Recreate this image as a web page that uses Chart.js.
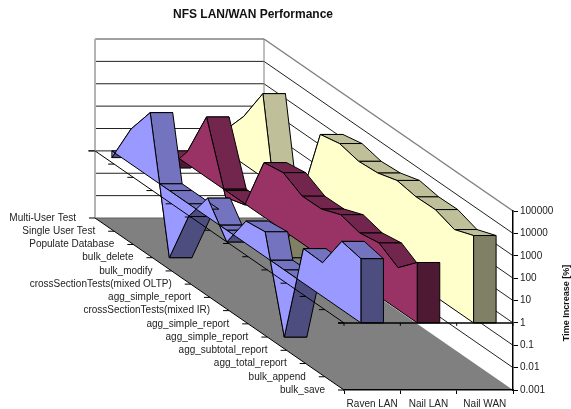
<!DOCTYPE html>
<html>
<head>
<meta charset="utf-8">
<title>NFS LAN/WAN Performance</title>
<script src="https://cdn.jsdelivr.net/npm/chart.js@4"></script>
<style>
  body { margin: 0; background: #fff; }
  canvas { display: block; }
</style>
</head>
<body>
<canvas id="myChart" width="571" height="409"></canvas>
<script>
const seriesNames = ["Raven LAN", "Nail LAN", "Nail WAN"];
const depthLabels = [
  "Multi-User Test", "Single User Test", "Populate Database", "bulk_delete", "bulk_modify",
  "crossSectionTests(mixed OLTP)", "agg_simple_report", "crossSectionTests(mixed IR)",
  "agg_simple_report", "agg_simple_report", "agg_subtotal_report", "agg_total_report",
  "bulk_append", "bulk_save",
];
const valueTicks = [0.001, 0.01, 0.1, 1, 10, 100, 1000, 10000, 100000];

const ravenLan = [0.5, 37, 780, 0.001, 0.27, 7, 0.3, 10, 13, 0.001, 35, 32, 1120, 740];
const nailLan = [0.17, 3.6, 500, 0.5, 0.9, 270, 375, 130, 135, 295, 175, 245, 75, 500];
const nailWan = [8, 135, 5500, 0.001, 1.9, 4900, 7500, 4700, 5500, 10000, 7200, 7600, 3800, 8000];

const seriesValues = [ravenLan, nailLan, nailWan];
const seriesColors = [
  { face: "#9999FF", top: "#7373BF", dark: "#4D4D80" },
  { face: "#993366", top: "#73264D", dark: "#4D1933" },
  { face: "#FFFFCC", top: "#BFBF99", dark: "#808066" },
];

// oblique shift of the rear plane relative to the front plane
const rearX = -249;
const rearY = -172;
const baseValue = 1;
const slabWidth = 0.4;
const FONT = '"Liberation Sans", Arial, sans-serif';

function shift(chart, index) {
  const depth = chart.scales.depth;
  const f = (depth.getPixelForValue(index) - depth.left) / depth.width - 1;
  return { x: f * -rearX, y: f * -rearY };
}

function poly(ctx, pts, fill, stroke) {
  ctx.beginPath();
  pts.forEach((p, i) => (i ? ctx.lineTo(p.x, p.y) : ctx.moveTo(p.x, p.y)));
  ctx.closePath();
  if (fill) {
    ctx.fillStyle = fill;
    ctx.fill();
  }
  if (stroke) {
    ctx.strokeStyle = stroke;
    ctx.lineWidth = 1;
    ctx.stroke();
  }
}

function line(ctx, x1, y1, x2, y2, color, width) {
  ctx.beginPath();
  ctx.moveTo(x1, y1);
  ctx.lineTo(x2, y2);
  ctx.strokeStyle = color;
  ctx.lineWidth = width || 1;
  ctx.stroke();
}

// walls and floor
const walls = {
  id: "walls",
  beforeDraw(chart) {
    const { ctx, chartArea, scales } = chart;
    const { left, right } = chartArea;
    const y = scales.y;
    const floorY = y.getPixelForValue(valueTicks[0]);
    const topY = y.getPixelForValue(valueTicks[valueTicks.length - 1]);
    ctx.save();
    ctx.fillStyle = "#fff";
    ctx.fillRect(0, 0, chart.width, chart.height);

    poly(ctx, [
      { x: left + rearX, y: floorY + rearY },
      { x: right + rearX, y: floorY + rearY },
      { x: right, y: floorY },
      { x: left, y: floorY },
    ], "#808080");

    valueTicks.forEach((v) => {
      const py = y.getPixelForValue(v);
      const isTop = py === topY;
      const isBottom = v === valueTicks[0];
      const color = isTop || isBottom ? "#808080" : "#222";
      const startX = v === baseValue ? left + rearX - 7 : left + rearX;
      line(ctx, startX, py + rearY, right + rearX, py + rearY, isBottom ? "#606060" : color, isTop ? 1.5 : 1);
      if (!isBottom) line(ctx, right + rearX, py + rearY, right, py, isTop ? "#808080" : "#222", isTop ? 1.5 : 1);
    });
    line(ctx, left + rearX, topY + rearY, left + rearX, floorY + rearY, "#b4b4b4", 2);
    line(ctx, right + rearX, topY + rearY, right + rearX, floorY + rearY, "#808080", 1);
    ctx.restore();
  },
};

// one solid ribbon per series, rear to front, rightmost series first
const slabs = {
  id: "slabs",
  beforeDatasetsDraw(chart) {
    const { ctx, scales } = chart;
    const xs = scales.x;
    const ys = scales.y;
    const baseY = ys.getPixelForValue(baseValue);
    const width = (xs.getPixelForValue(1) - xs.getPixelForValue(0)) * slabWidth;
    ctx.save();
    ctx.lineJoin = "round";

    for (let s = seriesNames.length - 1; s >= 0; s--) {
      const colors = seriesColors[s];
      const meta = chart.getDatasetMeta(s);
      const xLeft = xs.getPixelForValue(s) - width / 2;

      // nodes along the left edge; a node is added wherever the series crosses the base
      const nodes = [];
      meta._parsed.forEach((item, i) => {
        const off = shift(chart, i);
        const h = ys.getPixelForValue(item.y) - baseY;
        if (i > 0) {
          const prev = nodes[nodes.length - 1];
          if (prev.h * h < 0) {
            const t = prev.h / (prev.h - h);
            nodes.push({
              x: prev.x + (xLeft + off.x - prev.x) * t,
              base: prev.base + (baseY + off.y - prev.base) * t,
              h: 0,
            });
          }
        }
        nodes.push({ x: xLeft + off.x, base: baseY + off.y, h });
      });

      // top and underside surfaces
      for (let i = 0; i < nodes.length - 1; i++) {
        const a = nodes[i];
        const b = nodes[i + 1];
        const ya = a.base + a.h;
        const yb = b.base + b.h;
        poly(ctx, [
          { x: a.x, y: ya }, { x: b.x, y: yb },
          { x: b.x + width, y: yb }, { x: a.x + width, y: ya },
        ], yb < ya ? colors.dark : colors.top, "#000");
      }

      // base plane closes the solid where it hangs below the base value
      for (let i = 0; i < nodes.length - 1; i++) {
        const a = nodes[i];
        const b = nodes[i + 1];
        if (a.h < 0 || b.h < 0) continue;
        if (a.h === 0 && b.h === 0) continue;
        poly(ctx, [
          { x: a.x, y: a.base }, { x: b.x, y: b.base },
          { x: b.x + width, y: b.base }, { x: a.x + width, y: a.base },
        ], colors.top, "#000");
      }

      // front end
      const last = nodes[nodes.length - 1];
      poly(ctx, [
        { x: last.x, y: last.base + last.h }, { x: last.x + width, y: last.base + last.h },
        { x: last.x + width, y: last.base }, { x: last.x, y: last.base },
      ], colors.dark, "#000");

      // left side face
      const face = nodes.map((n) => ({ x: n.x, y: n.base + n.h }));
      face.push({ x: last.x, y: last.base });
      face.push({ x: nodes[0].x, y: nodes[0].base });
      poly(ctx, face, colors.face, "#000");
    }
    ctx.restore();
  },
};

// axis lines on the base plane, floor ticks and the text the scales cannot place
const overlay = {
  id: "overlay",
  afterDatasetsDraw(chart) {
    const { ctx, chartArea, scales } = chart;
    const { left, right } = chartArea;
    const baseY = scales.y.getPixelForValue(baseValue);
    const floorY = scales.y.getPixelForValue(valueTicks[0]);
    ctx.save();

    line(ctx, left + rearX, baseY + rearY, left, baseY, "#000", 1);
    line(ctx, left + rearX, floorY + rearY, left, floorY, "#000", 1);
    line(ctx, left - 6, baseY, right, baseY, "#000", 1.5);
    scales.x.getTicks().forEach((t, i) => {
      const w = (right - left) / seriesNames.length;
      line(ctx, left + i * w, baseY, left + i * w, baseY + 3, "#000", 1);
    });
    line(ctx, right, baseY, right, baseY + 3, "#000", 1);

    ctx.fillStyle = "#222";
    ctx.font = "10px " + FONT;
    ctx.textAlign = "right";
    ctx.textBaseline = "middle";
    depthLabels.forEach((label, i) => {
      const off = shift(chart, i);
      line(ctx, left + off.x - 6, baseY + off.y, left + off.x, baseY + off.y, "#000", 1);
      line(ctx, left + off.x - 6, floorY + off.y, left + off.x, floorY + off.y, "#000", 1);
      ctx.fillText(label, left + off.x - 19, floorY + off.y);
    });

    ctx.textAlign = "center";
    ctx.fillStyle = "#111";
    ctx.font = "bold 12px " + FONT;
    ctx.fillText("NFS LAN/WAN Performance", 253, 15);

    ctx.font = "bold 9px " + FONT;
    ctx.translate(567, 303);
    ctx.rotate(-Math.PI / 2);
    ctx.fillText("Time Increase [%]", 0, 0);
    ctx.restore();
  },
};

new Chart(document.getElementById("myChart"), {
  type: "line",
  data: {
    labels: seriesNames,
    datasets: seriesNames.map((name, s) => ({
      label: name,
      data: seriesValues[s].map((v) => ({ x: name, y: v })),
      showLine: false,
      pointRadius: 0,
    })),
  },
  options: {
    responsive: false,
    animation: false,
    layout: { padding: { left: 344, right: 18, top: 211, bottom: 0 } },
    plugins: { legend: { display: false }, tooltip: { enabled: false }, title: { display: false } },
    scales: {
      x: {
        type: "category",
        labels: seriesNames,
        offset: true,
        afterFit(scale) { scale.height = 19; },
        grid: { display: true, offset: true, drawOnChartArea: false, drawTicks: true, tickLength: 4, color: "#000" },
        border: { display: true, color: "#000", width: 1.5 },
        ticks: { color: "#222", font: { family: FONT, size: 10 }, padding: 4, maxRotation: 0, autoSkip: false },
      },
      y: {
        type: "logarithmic",
        position: "right",
        min: valueTicks[0],
        max: valueTicks[valueTicks.length - 1],
        afterBuildTicks(scale) { scale.ticks = valueTicks.map((v) => ({ value: v })); },
        afterFit(scale) { scale.width = 40; },
        grid: { display: true, drawOnChartArea: false, drawTicks: true, tickLength: 5, color: "#000" },
        border: { display: true, color: "#000", width: 1.5 },
        ticks: {
          color: "#222",
          font: { family: FONT, size: 10 },
          padding: 2,
          autoSkip: false,
          callback: (v) => String(v),
        },
      },
      depth: {
        type: "category",
        axis: "x",
        position: "bottom",
        labels: depthLabels,
        display: false,
        offset: false,
      },
    },
  },
  plugins: [walls, slabs, overlay],
});
</script>
</body>
</html>
